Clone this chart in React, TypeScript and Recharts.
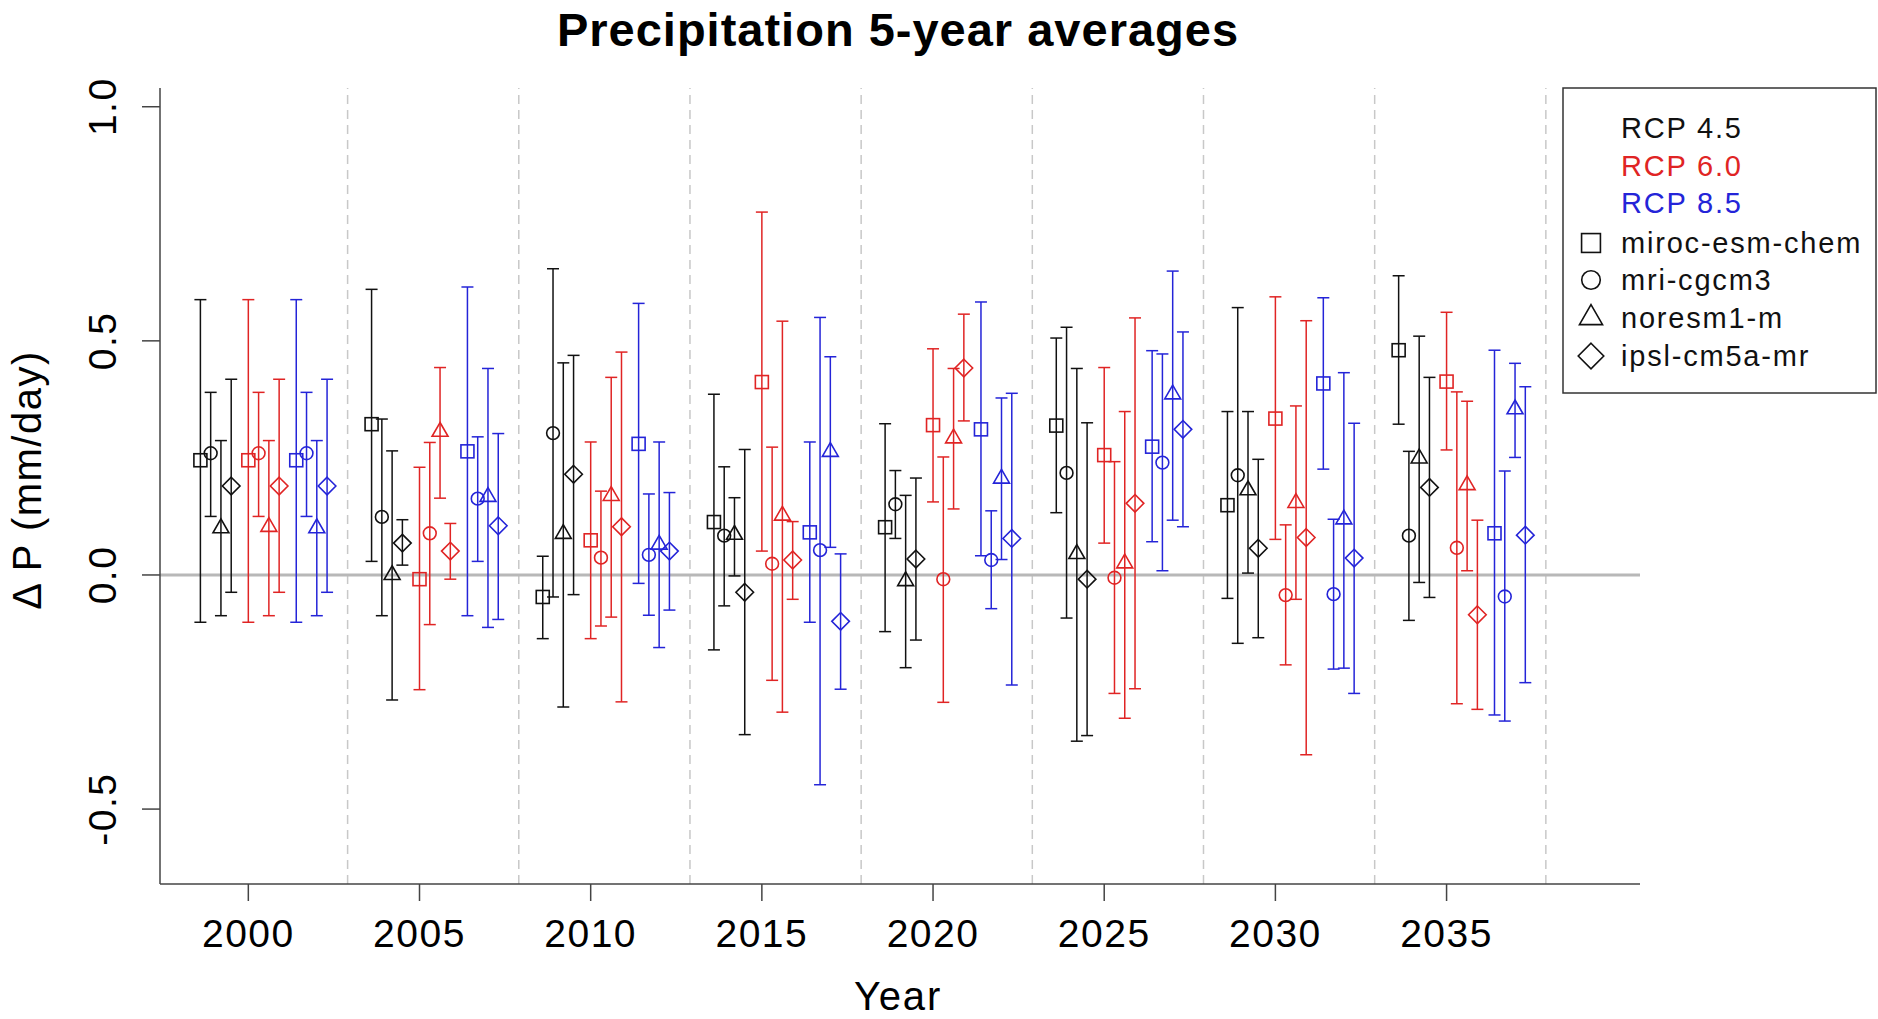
import React from 'react';
import { ScatterChart, Scatter, XAxis, YAxis, ErrorBar, ReferenceLine } from 'recharts';

const years = [2000, 2005, 2010, 2015, 2020, 2025, 2030, 2035];
const scenarios = ['RCP 4.5', 'RCP 6.0', 'RCP 8.5'];
const scenarioColors = ['#111111', '#e02424', '#2424d8'];
const scenarioOffsets = [-1.4, 0, 1.4];
const models = ['miroc-esm-chem', 'mri-cgcm3', 'noresm1-m', 'ipsl-cm5a-mr'];
const modelShapes = ['square', 'circle', 'triangle', 'diamond'];
const modelOffsets = [0, 0.3, 0.6, 0.9];
const dividers = [2002.9, 2007.9, 2012.9, 2017.9, 2022.9, 2027.9, 2032.9, 2037.9];
const yTicks = [-0.5, 0, 0.5, 1.0];
const yTickLabels = ['-0.5', '0.0', '0.5', '1.0'];

// rows: models (miroc, mri, noresm, ipsl); columns: years
const rcp45Mean = [
  [0.245, 0.322, -0.047, 0.113, 0.102, 0.319, 0.149, 0.48],
  [0.26, 0.124, 0.303, 0.084, 0.151, 0.218, 0.213, 0.084],
  [0.1, 0.0, 0.088, 0.086, -0.013, 0.045, 0.181, 0.249],
  [0.19, 0.068, 0.215, -0.037, 0.034, -0.009, 0.057, 0.187],
];
const rcp45Low = [
  [-0.101, 0.029, -0.136, -0.16, -0.121, 0.133, -0.05, 0.322],
  [0.125, -0.087, -0.047, -0.066, 0.078, -0.092, -0.146, -0.097],
  [-0.087, -0.267, -0.282, -0.002, -0.198, -0.355, 0.004, -0.016],
  [-0.037, 0.021, -0.042, -0.341, -0.139, -0.343, -0.134, -0.048],
];
const rcp45High = [
  [0.588, 0.61, 0.04, 0.386, 0.323, 0.506, 0.349, 0.639],
  [0.39, 0.333, 0.654, 0.231, 0.223, 0.529, 0.571, 0.264],
  [0.287, 0.265, 0.453, 0.165, 0.17, 0.441, 0.349, 0.51],
  [0.418, 0.118, 0.469, 0.268, 0.207, 0.325, 0.247, 0.422],
];

const rcp60Mean = [
  [0.245, -0.009, 0.074, 0.412, 0.32, 0.256, 0.334, 0.413],
  [0.26, 0.089, 0.037, 0.024, -0.009, -0.006, -0.043, 0.058],
  [0.103, 0.306, 0.169, 0.127, 0.292, 0.025, 0.154, 0.192],
  [0.19, 0.051, 0.103, 0.032, 0.442, 0.153, 0.08, -0.085],
];
const rcp60Low = [
  [-0.101, -0.245, -0.136, 0.051, 0.156, 0.068, 0.076, 0.267],
  [0.125, -0.106, -0.109, -0.225, -0.272, -0.253, -0.192, -0.275],
  [-0.087, 0.164, -0.09, -0.293, 0.141, -0.306, -0.052, 0.009],
  [-0.037, -0.009, -0.271, -0.052, 0.329, -0.243, -0.384, -0.287],
];
const rcp60High = [
  [0.588, 0.23, 0.284, 0.775, 0.483, 0.443, 0.594, 0.561],
  [0.39, 0.283, 0.179, 0.273, 0.252, 0.242, 0.107, 0.391],
  [0.287, 0.443, 0.422, 0.542, 0.441, 0.349, 0.361, 0.371],
  [0.418, 0.11, 0.476, 0.114, 0.557, 0.549, 0.543, 0.117],
];

const rcp85Mean = [
  [0.245, 0.264, 0.28, 0.091, 0.311, 0.274, 0.409, 0.089],
  [0.26, 0.163, 0.043, 0.053, 0.032, 0.24, -0.041, -0.046],
  [0.1, 0.167, 0.065, 0.263, 0.206, 0.386, 0.119, 0.354],
  [0.19, 0.105, 0.051, -0.099, 0.078, 0.311, 0.036, 0.085],
];
const rcp85Low = [
  [-0.101, -0.087, -0.018, -0.101, 0.041, 0.071, 0.226, -0.299],
  [0.125, 0.029, -0.086, -0.448, -0.072, 0.009, -0.201, -0.312],
  [-0.087, -0.112, -0.155, 0.059, 0.033, 0.117, -0.199, 0.251],
  [-0.037, -0.095, -0.075, -0.244, -0.235, 0.103, -0.253, -0.23],
];
const rcp85High = [
  [0.588, 0.615, 0.58, 0.284, 0.583, 0.479, 0.592, 0.48],
  [0.39, 0.295, 0.173, 0.55, 0.137, 0.472, 0.119, 0.222],
  [0.287, 0.441, 0.284, 0.466, 0.378, 0.649, 0.432, 0.452],
  [0.418, 0.302, 0.176, 0.045, 0.388, 0.519, 0.324, 0.402],
];

const means = [rcp45Mean, rcp60Mean, rcp85Mean];
const lows = [rcp45Low, rcp60Low, rcp85Low];
const highs = [rcp45High, rcp60High, rcp85High];

const FONT = '"Liberation Sans", Arial, Helvetica, sans-serif';

function drawMarker(kind: string, cx: number, cy: number, color: string, scale = 1) {
  const sw = 1.6;
  if (kind === 'square') {
    const h = 6.5 * scale;
    return <rect x={cx - h} y={cy - h} width={2 * h} height={2 * h} fill="none" stroke={color} strokeWidth={sw} />;
  }
  if (kind === 'circle') {
    return <circle cx={cx} cy={cy} r={6.4 * scale} fill="none" stroke={color} strokeWidth={sw} />;
  }
  if (kind === 'triangle') {
    const r = 9.2 * scale;
    const pts = `${cx},${cy - r} ${cx + 0.866 * r},${cy + r / 2} ${cx - 0.866 * r},${cy + r / 2}`;
    return <polygon points={pts} fill="none" stroke={color} strokeWidth={sw} strokeLinejoin="miter" />;
  }
  const d = 8.8 * scale;
  const pts = `${cx},${cy - d} ${cx + d},${cy} ${cx},${cy + d} ${cx - d},${cy}`;
  return <polygon points={pts} fill="none" stroke={color} strokeWidth={sw} />;
}

function buildSeries(r: number, m: number) {
  return years.map((yr, i) => {
    const v = means[r][m][i];
    return {
      x: yr + scenarioOffsets[r] + modelOffsets[m],
      y: v,
      err: [v - lows[r][m][i], highs[r][m][i] - v],
    };
  });
}

const XTick = (props: any) => {
  const { x, y, payload } = props;
  return (
    <text x={x} y={y + 30} textAnchor="middle" dominantBaseline="central" fontSize={39} fontFamily={FONT} fill="#000" letterSpacing={1.5}>
      {String(payload.value)}
    </text>
  );
};

const YTick = (props: any) => {
  const { x, y, payload } = props;
  const idx = yTicks.indexOf(payload.value);
  const cx = x - 37;
  return (
    <text x={cx} y={y} transform={`rotate(-90, ${cx}, ${y})`} textAnchor="middle" dominantBaseline="central" fontSize={39} fontFamily={FONT} fill="#000" letterSpacing={1.5}>
      {idx >= 0 ? yTickLabels[idx] : String(payload.value)}
    </text>
  );
};

const legendRows = [128, 166, 203, 243, 280, 318, 356];

export default function App() {
  const series: any[] = [];
  for (let r = 0; r < 3; r++) {
    for (let m = 0; m < 4; m++) {
      const color = scenarioColors[r];
      const kind = modelShapes[m];
      series.push(
        <Scatter
          key={`s-${r}-${m}`}
          name={`${scenarios[r]} ${models[m]}`}
          data={buildSeries(r, m)}
          dataKey="y"
          isAnimationActive={false}
          shape={(p: any) => drawMarker(kind, p.cx, p.cy, color)}
        >
          <ErrorBar dataKey="err" direction="y" width={6} stroke={color} strokeWidth={1.5} />
        </Scatter>
      );
    }
  }

  return (
    <div style={{ position: 'absolute', left: 0, top: 0, width: 1878, height: 1019, background: '#fff' }}>
      <ScatterChart width={1878} height={1019} margin={{ top: 88, right: 238, bottom: 0, left: 0 }}>
        <XAxis
          type="number"
          dataKey="x"
          domain={[1997.42, 2040.65]}
          allowDataOverflow
          ticks={years}
          tick={<XTick />}
          tickSize={17}
          height={135}
          stroke="#444"
          axisLine={{ stroke: '#444', strokeWidth: 1.5 }}
          tickLine={{ stroke: '#444', strokeWidth: 1.5 }}
        />
        <YAxis
          type="number"
          dataKey="y"
          domain={[-0.66, 1.04]}
          allowDataOverflow
          ticks={yTicks}
          tick={<YTick />}
          tickSize={18}
          width={160}
          stroke="#444"
          axisLine={{ stroke: '#444', strokeWidth: 1.5 }}
          tickLine={{ stroke: '#444', strokeWidth: 1.5 }}
        />
        {dividers.map((d) => (
          <ReferenceLine key={`d-${d}`} x={d} stroke="#c8c8c8" strokeWidth={1.5} strokeDasharray="9 6" />
        ))}
        <ReferenceLine y={0} stroke="#b8b8b8" strokeWidth={3} />
        {series}
      </ScatterChart>
      <svg width={1878} height={1019} style={{ position: 'absolute', left: 0, top: 0, pointerEvents: 'none' }}>
        <text x={898} y={29} textAnchor="middle" dominantBaseline="central" fontSize={47} fontWeight="bold" fontFamily={FONT} fill="#000" letterSpacing={1}>
          Precipitation 5-year averages
        </text>
        <text x={898} y={996} textAnchor="middle" dominantBaseline="central" fontSize={40} fontFamily={FONT} fill="#000" letterSpacing={1.8}>
          Year
        </text>
        <text x={27} y={480} transform="rotate(-90, 27, 480)" textAnchor="middle" dominantBaseline="central" fontSize={40} fontFamily={FONT} fill="#000" letterSpacing={1.5}>
          Δ P (mm/day)
        </text>
        <rect x={1563} y={88} width={313} height={305} fill="#fff" stroke="#333" strokeWidth={1.5} />
        {scenarios.map((s, i) => (
          <text key={s} x={1621} y={legendRows[i]} dominantBaseline="central" fontSize={29} fontFamily={FONT} fill={scenarioColors[i]} letterSpacing={1.8}>
            {s}
          </text>
        ))}
        {models.map((m, i) => (
          <g key={m}>
            {drawMarker(modelShapes[i], 1591, legendRows[3 + i], '#111', 1.45)}
            <text x={1621} y={legendRows[3 + i]} dominantBaseline="central" fontSize={29} fontFamily={FONT} fill="#111" letterSpacing={1.8}>
              {m}
            </text>
          </g>
        ))}
      </svg>
    </div>
  );
}
